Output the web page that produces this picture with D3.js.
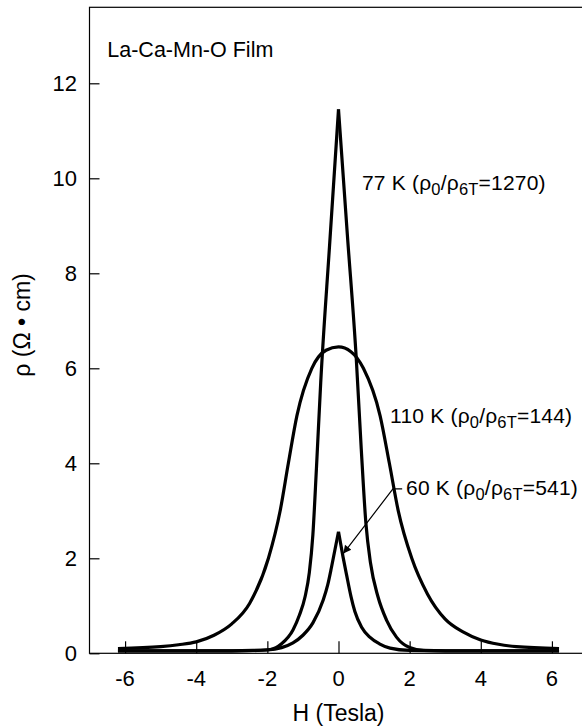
<!DOCTYPE html>
<html>
<head>
<meta charset="utf-8">
<script src="https://cdn.jsdelivr.net/npm/d3@7"></script>
<style>
  html, body { margin: 0; padding: 0; background: #fff; }
  svg { display: block; }
  text { font-family: "Liberation Sans", Arial, Helvetica, sans-serif; fill: #000; }
</style>
</head>
<body>
<svg id="chart" width="582" height="728"></svg>
<script>
// Resistivity vs. magnetic field for a La-Ca-Mn-O film at three temperatures.

// 77 K curve, split into the two branches that meet at the zero-field peak
const h77Left  = [-6.2, -4.0, -3.0, -2.4, -1.92, -1.6, -1.28, -1.1, -0.94, -0.82, -0.72, -0.62, -0.5, -0.25, 0];
const rho77Left = [0.05, 0.05, 0.05, 0.06, 0.08, 0.2, 0.49, 0.8, 1.19, 1.7, 2.5, 3.9, 5.7, 8.6, 11.45];
const h77Right  = [0, 0.25, 0.5, 0.64, 0.77, 0.9, 1.11, 1.35, 1.63, 2.0, 2.4, 3.0, 4.0, 6.2];
const rho77Right = [11.45, 8.8, 6.2, 4.3, 2.74, 1.9, 1.19, 0.7, 0.34, 0.12, 0.06, 0.05, 0.05, 0.05];

// 60 K curve (cusp at zero field)
const h60Left  = [-6.2, -4.0, -3.0, -2.0, -1.6, -1.28, -1.0, -0.72, -0.43, -0.3, -0.2, -0.1, 0];
const rho60Left = [0.05, 0.05, 0.05, 0.07, 0.12, 0.22, 0.38, 0.64, 1.12, 1.45, 1.8, 2.18, 2.56];
const h60Right  = [0, 0.13, 0.23, 0.35, 0.46, 0.65, 0.88, 1.15, 1.45, 2.0, 3.0, 4.0, 6.2];
const rho60Right = [2.56, 2.02, 1.64, 1.2, 0.88, 0.55, 0.34, 0.2, 0.11, 0.06, 0.05, 0.05, 0.05];

// 110 K curve (broad, rounded maximum)
const h110  = [-6.2, -5.0, -4.5, -4.0, -3.5, -3.0, -2.5, -1.97, -1.64, -1.41, -1.17, -0.75, -0.35, 0, 0.35, 0.7, 1.17, 1.43, 1.68, 2.06, 2.5, 3.0, 3.5, 4.0, 4.5, 5.0, 6.2];
const rho110 = [0.1, 0.14, 0.18, 0.24, 0.38, 0.62, 1.05, 2.0, 3.0, 4.0, 5.0, 6.0, 6.38, 6.45, 6.35, 6.0, 5.0, 4.0, 3.0, 2.0, 1.25, 0.72, 0.45, 0.28, 0.19, 0.14, 0.1];

// Axis ticks
const xTicks = [-6, -4, -2, 0, 2, 4, 6];
const yTicks = [0, 2, 4, 6, 8, 10, 12];

const svg = d3.select("#chart");

const x = d3.scaleLinear().domain([-7, 7]).range([89.5, 587.5]);
const y = d3.scaleLinear().domain([0, 13.6]).range([653.3, 7.3]);

// Frame
svg.append("rect")
  .attr("x", x(-7)).attr("y", y(13.6))
  .attr("width", x(7) - x(-7)).attr("height", y(0) - y(13.6))
  .attr("fill", "none").attr("stroke", "#000").attr("stroke-width", 1.2);

// Inward ticks on the left axis
const yAxis = d3.axisRight(y).tickValues(yTicks).tickSize(10).tickFormat("");
svg.append("g").attr("transform", `translate(${x(-7)},0)`).call(yAxis)
  .call(g => g.select(".domain").remove())
  .call(g => g.selectAll("line").attr("stroke", "#000").attr("stroke-width", 1.2));

// Inward ticks on the bottom axis
const xAxis = d3.axisTop(x).tickValues(xTicks).tickSize(12).tickFormat("");
svg.append("g").attr("transform", `translate(0,${y(0)})`).call(xAxis)
  .call(g => g.select(".domain").remove())
  .call(g => g.selectAll("line").attr("stroke", "#000").attr("stroke-width", 1.2));

// Tick labels
svg.append("g").selectAll("text").data(yTicks).join("text")
  .attr("x", 77).attr("y", d => y(d)).attr("dy", "0.36em")
  .attr("text-anchor", "end").attr("font-size", 22)
  .text(d => d);

svg.append("g").selectAll("text").data(xTicks).join("text")
  .attr("x", d => x(d)).attr("y", 686)
  .attr("text-anchor", "middle").attr("font-size", 22)
  .text(d => d);

// Axis titles
svg.append("text")
  .attr("x", x(0)).attr("y", 721)
  .attr("text-anchor", "middle").attr("font-size", 23)
  .text("H (Tesla)");

svg.append("text")
  .attr("transform", `translate(30,325)rotate(-90)`)
  .attr("text-anchor", "middle").attr("font-size", 23)
  .text("ρ (Ω • cm)");

// Curves
const line = d3.line()
  .x(d => x(d[0])).y(d => y(d[1]))
  .curve(d3.curveMonotoneX);

const branches = [
  [h77Left, rho77Left], [h77Right, rho77Right],
  [h60Left, rho60Left], [h60Right, rho60Right],
  [h110, rho110]
];
svg.append("g").selectAll("path").data(branches).join("path")
  .attr("d", ([hs, rs]) => line(d3.zip(hs, rs)))
  .attr("fill", "none").attr("stroke", "#000")
  .attr("stroke-width", 3.2).attr("stroke-linejoin", "miter")
  .attr("stroke-linecap", "butt");

// Sample label
svg.append("text")
  .attr("x", x(-6.5)).attr("y", y(12.55))
  .attr("font-size", 21.5)
  .text("La-Ca-Mn-O Film");

// Curve labels with subscripts
function curveLabel(hx, ry, temp, ratio) {
  const t = svg.append("text").attr("x", x(hx)).attr("y", y(ry))
    .attr("font-size", 21).attr("letter-spacing", 0.2);
  t.append("tspan").text(`${temp} (ρ`);
  t.append("tspan").attr("font-size", 16.5).attr("dy", 5).text("0");
  t.append("tspan").attr("dy", -5).text("/ρ");
  t.append("tspan").attr("font-size", 16.5).attr("dy", 5).text("6T");
  t.append("tspan").attr("dy", -5).text(`=${ratio})`);
}
curveLabel(0.66, 9.75, "77 K", "1270");
curveLabel(1.45, 4.85, "110 K", "144");
curveLabel(1.9, 3.33, "60 K", "541");

// Arrow pointing from the 60 K label to its curve
const arrowStart = [1.79, 3.46], arrowBend = [1.53, 3.46], arrowTip = [0.135, 2.1];
svg.append("defs").append("marker")
  .attr("id", "head").attr("viewBox", "0 0 10 10")
  .attr("refX", 10).attr("refY", 5)
  .attr("markerWidth", 10).attr("markerHeight", 8)
  .attr("markerUnits", "userSpaceOnUse")
  .attr("orient", "auto")
  .append("path").attr("d", "M0,0L10,5L0,10Z").attr("fill", "#000");

svg.append("path")
  .attr("d", d3.line().x(d => x(d[0])).y(d => y(d[1]))([arrowStart, arrowBend, arrowTip]))
  .attr("fill", "none").attr("stroke", "#000").attr("stroke-width", 1.2)
  .attr("marker-end", "url(#head)");
</script>
</body>
</html>
